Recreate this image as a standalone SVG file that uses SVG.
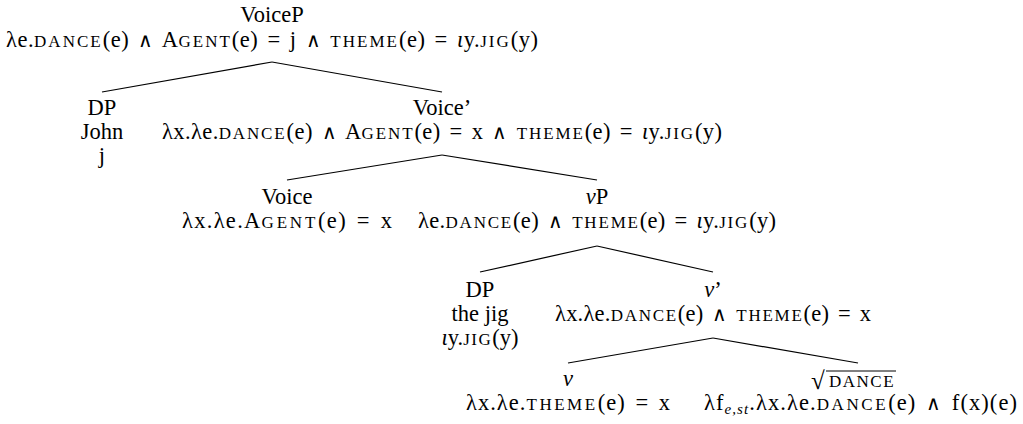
<svg xmlns="http://www.w3.org/2000/svg" width="1023" height="424" viewBox="0 0 1023 424">
<style>
text{font-family:"Liberation Serif","DejaVu Serif",serif;font-size:22.5px;fill:#000}
.m{text-anchor:middle}
.s{word-spacing:3px}
.sc{font-size:17px;letter-spacing:1.5px}
.it{font-style:italic}
.op{font-family:"DejaVu Sans","Liberation Serif",sans-serif;font-weight:200;font-size:20px}
.sub{font-size:15px;font-style:italic}
.edge{stroke:#000;stroke-width:1.2;fill:none}
</style>
<rect width="1023" height="424" fill="#fff"/>
<g id="connectors">
<line class="edge" x1="272" y1="62" x2="102" y2="92"/>
<line class="edge" x1="272" y1="62" x2="442" y2="92"/>
<line class="edge" x1="442" y1="155" x2="287" y2="180"/>
<line class="edge" x1="442" y1="155" x2="597" y2="180"/>
<line class="edge" x1="597" y1="246" x2="480" y2="272"/>
<line class="edge" x1="597" y1="246" x2="713" y2="272"/>
<line class="edge" x1="713" y1="338" x2="568" y2="363"/>
<line class="edge" x1="713" y1="338" x2="858" y2="363"/>
</g>
<g id="voiceP">
<text class="m" x="272" y="22">VoiceP</text>
<text class="s" x="6" y="47" textLength="532" lengthAdjust="spacing">λe.<tspan class="sc">DANCE</tspan>(e) <tspan class="op">∧</tspan> A<tspan class="sc">GENT</tspan>(e) = j <tspan class="op">∧</tspan> <tspan class="sc">THEME</tspan>(e) = <tspan class="it">ι</tspan>y.<tspan class="sc">JIG</tspan>(y)</text>
</g>
<g id="dp-john">
<text class="m" x="102" y="115">DP</text>
<text class="m" x="102" y="139">John</text>
<text class="m" x="102" y="163">j</text>
</g>
<g id="voice-bar">
<text class="m" x="442" y="115">Voice’</text>
<text class="s" x="162" y="139" textLength="560" lengthAdjust="spacing">λx.λe.<tspan class="sc">DANCE</tspan>(e) <tspan class="op">∧</tspan> A<tspan class="sc">GENT</tspan>(e) = x <tspan class="op">∧</tspan> <tspan class="sc">THEME</tspan>(e) = <tspan class="it">ι</tspan>y.<tspan class="sc">JIG</tspan>(y)</text>
</g>
<g id="voice">
<text class="m" x="287" y="204">Voice</text>
<text class="s" x="182" y="228" textLength="210" lengthAdjust="spacing">λx.λe.A<tspan class="sc">GENT</tspan>(e) = x</text>
</g>
<g id="vP">
<text class="m" x="597" y="204"><tspan class="it">v</tspan>P</text>
<text class="s" x="418" y="228" textLength="358" lengthAdjust="spacing">λe.<tspan class="sc">DANCE</tspan>(e) <tspan class="op">∧</tspan> <tspan class="sc">THEME</tspan>(e) = <tspan class="it">ι</tspan>y.<tspan class="sc">JIG</tspan>(y)</text>
</g>
<g id="dp-jig">
<text class="m" x="480" y="297">DP</text>
<text class="m" x="480" y="321">the jig</text>
<text class="m" x="480" y="345"><tspan class="it">ι</tspan>y.<tspan class="sc">JIG</tspan>(y)</text>
</g>
<g id="v-bar">
<text class="m" x="713" y="297"><tspan class="it">v</tspan>’</text>
<text class="s" x="555" y="321" textLength="316" lengthAdjust="spacing">λx.λe.<tspan class="sc">DANCE</tspan>(e) <tspan class="op">∧</tspan> <tspan class="sc">THEME</tspan>(e) = x</text>
</g>
<g id="v">
<text class="m it" x="568" y="386">v</text>
<text class="s" x="466" y="410" textLength="204" lengthAdjust="spacing">λx.λe.<tspan class="sc">THEME</tspan>(e) = x</text>
</g>
<g id="root-dance">
<text x="811" y="389" style="font-size:25px">√</text>
<line x1="826" y1="371" x2="896" y2="371" stroke="#000" stroke-width="1"/>
<text x="829" y="387" class="sc">DANCE</text>
<text class="s" x="704" y="410" textLength="313" lengthAdjust="spacing">λf<tspan class="sub" dy="4">e,st</tspan><tspan dy="-4">.λx.λe.</tspan><tspan class="sc">DANCE</tspan>(e) <tspan class="op">∧</tspan> f(x)(e)</text>
</g>
</svg>
